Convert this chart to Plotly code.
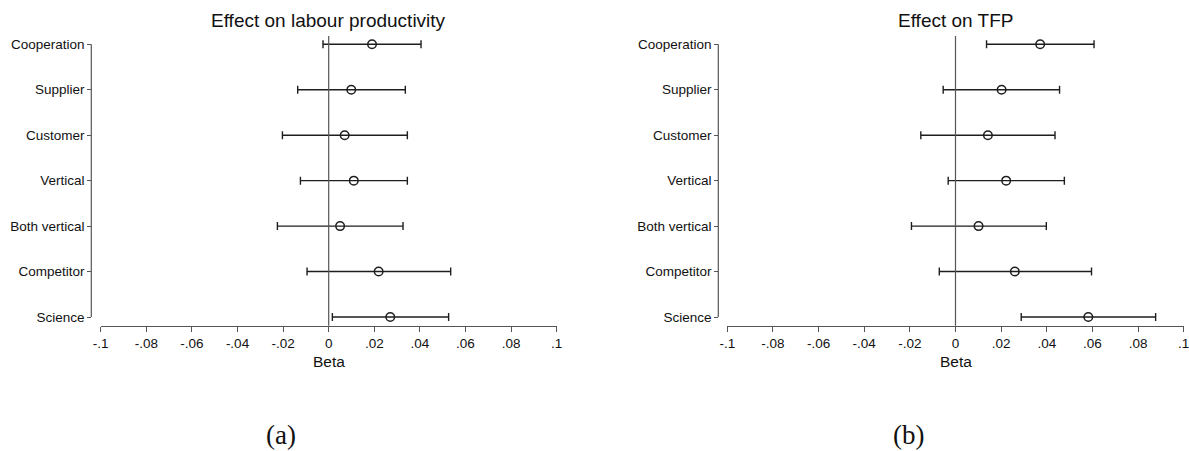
import plotly.graph_objects as go

# Coefficient estimates with 95% confidence intervals
categories = ["Cooperation", "Supplier", "Customer", "Vertical",
              "Both vertical", "Competitor", "Science"]

lp_beta = [0.0190, 0.0099, 0.0070, 0.0110, 0.0050, 0.0219, 0.0270]
lp_lo = [-0.0025, -0.0136, -0.0203, -0.0124, -0.0225, -0.0095, 0.0016]
lp_hi = [0.0405, 0.0336, 0.0345, 0.0345, 0.0326, 0.0535, 0.0526]

tfp_beta = [0.0371, 0.0202, 0.0142, 0.0222, 0.0101, 0.0260, 0.0582]
tfp_lo = [0.0136, -0.0054, -0.0152, -0.0032, -0.0193, -0.0071, 0.0288]
tfp_hi = [0.0607, 0.0456, 0.0436, 0.0477, 0.0398, 0.0596, 0.0877]

x_tickvals = [-0.1, -0.08, -0.06, -0.04, -0.02, 0, 0.02, 0.04, 0.06, 0.08, 0.1]
x_ticktext = ["-.1", "-.08", "-.06", "-.04", "-.02", "0", ".02", ".04", ".06", ".08", ".1"]

panel_titles = ["Effect on labour productivity", "Effect on TFP"]
captions = ["(a)", "(b)"]
x_title = "Beta"

W, H = 1189, 451
FONT = "Liberation Sans"
MARK = "#1e1e1e"
AXIS = "#555555"
TEXT = "#111111"


def px(x):
    return x / W


def py(y):
    return 1 - y / H


fig = go.Figure()

# panel geometry in pixels: plot left/right, y-axis line position, caption centre
panels = [
    dict(left=100.7, right=556.7, yline=91.3, cap=281),
    dict(left=727.3, right=1183.7, yline=718.3, cap=908),
]
series = [(lp_beta, lp_lo, lp_hi), (tfp_beta, tfp_lo, tfp_hi)]

top_cat, bot_cat = 44.3, 317.0   # pixel rows of first and last category
x_line = 325.7                   # pixel row of the x axis
zero_top = 36.0                  # top of the plot region
ncat = len(categories)
step = (bot_cat - top_cat) / (ncat - 1)
y_range = [-(x_line - bot_cat) / step, (ncat - 1) + (top_cat - zero_top) / step]

layout = dict(
    width=W, height=H,
    template="none",
    margin=dict(l=0, r=0, t=0, b=0, autoexpand=False),
    paper_bgcolor="white", plot_bgcolor="white",
    showlegend=False,
    font=dict(family=FONT, size=13.5, color=TEXT),
    shapes=[], annotations=[],
)

for i, (p, (beta, lo, hi)) in enumerate(zip(panels, series)):
    n = "" if i == 0 else str(i + 1)
    xa, ya = "x" + n, "y" + n
    fig.add_trace(go.Scatter(
        x=beta, y=categories, xaxis=xa, yaxis=ya,
        mode="markers", cliponaxis=False,
        marker=dict(symbol="circle-open", size=8.5, color=MARK,
                    line=dict(width=1.5, color=MARK)),
        error_x=dict(type="data", symmetric=False,
                     array=[h - b for h, b in zip(hi, beta)],
                     arrayminus=[b - l for b, l in zip(beta, lo)],
                     color=MARK, thickness=1.4, width=4),
        hoverinfo="skip",
    ))
    layout["xaxis" + n] = dict(
        domain=[px(p["left"]), px(p["right"])],
        range=[-0.1, 0.1], anchor="free", position=py(x_line),
        tickvals=x_tickvals, ticktext=x_ticktext,
        ticks="outside", ticklen=5, tickwidth=1.2, tickcolor=AXIS,
        showline=True, linecolor=AXIS, linewidth=1.2,
        showgrid=False, zeroline=False, automargin=False,
        ticklabeloverflow="allow",
        tickfont=dict(family=FONT, size=13.5, color=TEXT),
    )
    layout["yaxis" + n] = dict(
        domain=[py(x_line), py(zero_top)],
        type="category", categoryorder="array",
        categoryarray=list(reversed(categories)),
        range=y_range,
        anchor="free", position=px(p["yline"]),
        ticks="outside", ticklen=4, tickwidth=1.2, tickcolor=AXIS,
        showline=False, showgrid=False, zeroline=False, automargin=False,
        ticklabeloverflow="allow",
        tickfont=dict(family=FONT, size=13.5, color=TEXT),
    )
    # category axis line spanning first to last category
    layout["shapes"].append(dict(
        type="line", xref="paper", yref=ya,
        x0=px(p["yline"]), x1=px(p["yline"]),
        y0=categories[-1], y1=categories[0],
        line=dict(color=AXIS, width=1.2),
    ))
    # vertical reference line at zero
    layout["shapes"].append(dict(
        type="line", xref=xa, yref="paper", x0=0, x1=0,
        y0=py(x_line), y1=py(zero_top),
        line=dict(color=AXIS, width=1.2),
    ))
    mid = (p["left"] + p["right"]) / 2
    layout["annotations"] += [
        dict(text=panel_titles[i], xref="paper", yref="paper",
             x=px(mid), y=py(21), xanchor="center", yanchor="middle",
             showarrow=False, font=dict(family=FONT, size=19, color=TEXT)),
        dict(text=x_title, xref="paper", yref="paper",
             x=px(mid), y=py(361.5), xanchor="center", yanchor="middle",
             showarrow=False, font=dict(family=FONT, size=15.5, color=TEXT)),
        dict(text=captions[i], xref="paper", yref="paper",
             x=px(p["cap"]), y=0, xanchor="center", yanchor="bottom",
             borderpad=0, showarrow=False,
             font=dict(family="Liberation Serif", size=27, color=TEXT)),
    ]

fig.update_layout(**layout)
fig.write_html("out.html", config={"displayModeBar": False})
